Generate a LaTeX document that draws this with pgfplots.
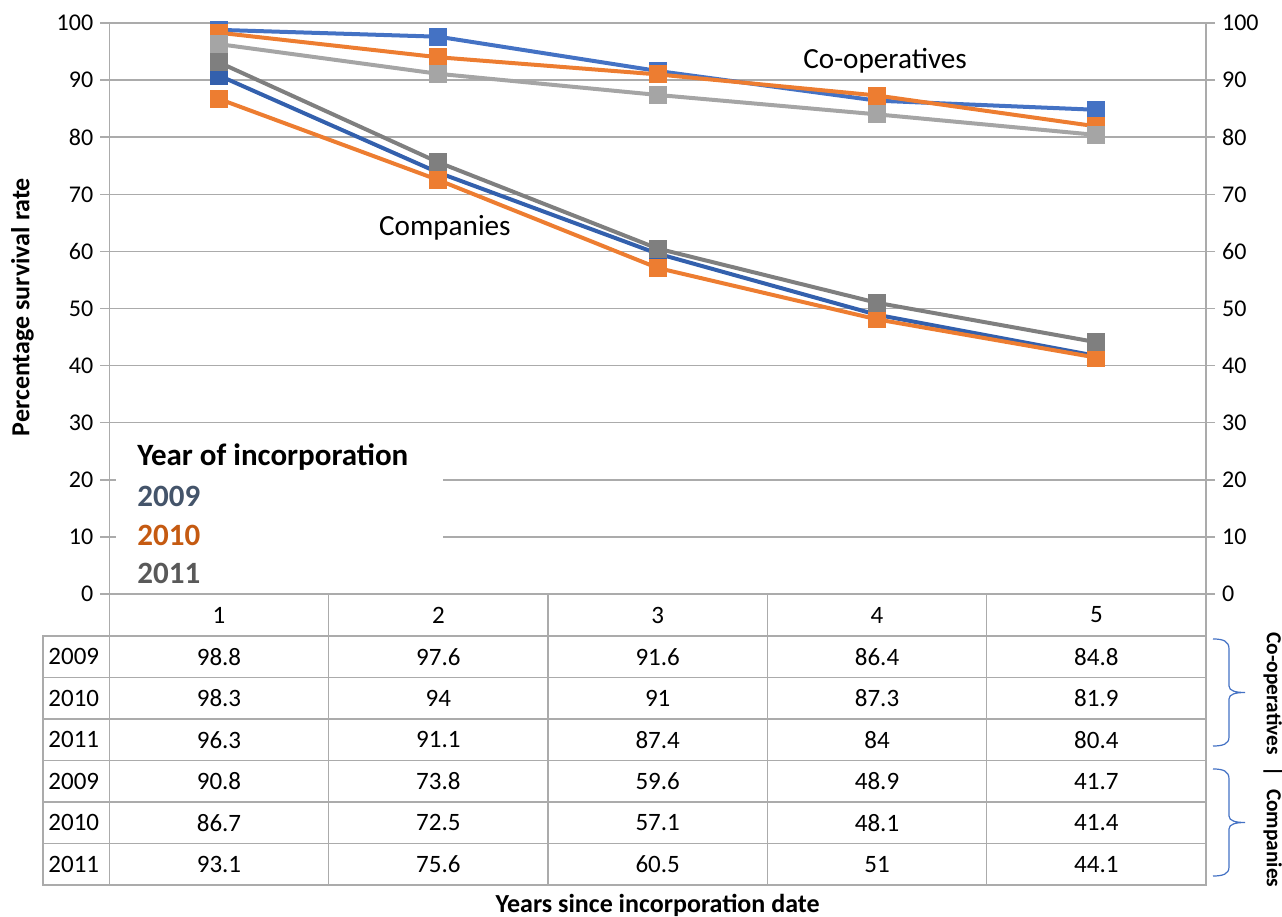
\documentclass[border=0pt]{standalone}
\usepackage{pgfplots}
\pgfplotsset{compat=1.18}
\usepackage{pgfplotstable}
\usepackage{fontspec}
\setmainfont{Carlito}
\definecolor{cblue}{HTML}{4472C4}
\definecolor{dblue}{HTML}{3360AD}
\definecolor{corange}{HTML}{ED7D31}
\definecolor{cgray}{HTML}{A5A5A5}
\definecolor{dgray}{HTML}{7F7F7F}
\definecolor{gridc}{HTML}{ABABAB}
\definecolor{leg09}{HTML}{44546A}
\definecolor{leg10}{HTML}{C55A11}
\definecolor{leg11}{HTML}{595959}

\pgfplotstableread{
x  y2009 y2010 y2011
1  98.8  98.3  96.3
2  97.6  94    91.1
3  91.6  91    87.4
4  86.4  87.3  84
5  84.8  81.9  80.4
}\coop
\pgfplotstableread{
x  y2009 y2010 y2011
1  90.8  86.7  93.1
2  73.8  72.5  75.6
3  59.6  57.1  60.5
4  48.9  48.1  51
5  41.7  41.4  44.1
}\comp

\begin{document}
\begin{tikzpicture}
\useasboundingbox (0,0) rectangle (641pt,458.5pt);
\pgfplotsset{
  common/.style={
    at={(54.65pt,161.5pt)}, anchor=south west,
    scale only axis, width=548.35pt, height=285.5pt,
    xmin=0.5, xmax=5.5, ymin=0, ymax=100,
    ytick={0,10,...,100}, xtick=\empty,
    axis line style={gridc, line width=0.75pt},
    tick style={gridc, line width=0.75pt},
    tick align=outside, major tick length=4.5pt,
    /pgf/number format/assume math mode=true,
    yticklabel style={font=\fontsize{12}{14}\selectfont, text=black},
  }
}
\begin{axis}[common,
  axis y line*=left, axis x line*=bottom,
  ymajorgrids, grid style={gridc, line width=0.75pt},
  clip=false,
  ylabel={Percentage survival rate},
  ylabel style={at={(axis description cs:-0.0793,0.5026)}, anchor=center, rotate=0,
    font=\bfseries\fontsize{13}{15}\selectfont},
  xlabel={Years since incorporation date},
  xlabel style={at={(axis description cs:0.5,-0.5447)}, anchor=center,
    font=\bfseries\fontsize{13}{15}\selectfont},
  every axis plot/.append style={line width=2pt, mark=square*, mark size=3.5pt},
]
\addplot[dblue, mark options={fill=dblue}] table[x=x, y=y2009] {\comp};
\addplot[corange, mark options={fill=corange}] table[x=x, y=y2010] {\comp};
\addplot[dgray, mark options={fill=dgray}] table[x=x, y=y2011] {\comp};
\addplot[cblue, mark options={fill=cblue}] table[x=x, y=y2009] {\coop};
\addplot[corange, mark options={fill=corange}] table[x=x, y=y2010] {\coop};
\addplot[cgray, mark options={fill=cgray}] table[x=x, y=y2011] {\coop};
\node[font=\fontsize{14.6}{16}\selectfont] at (axis cs:4.037,93.3) {Co-operatives};
\node[font=\fontsize{14.6}{16}\selectfont] at (axis cs:2.03,64.1) {Companies};
\end{axis}
\begin{axis}[common,
  axis y line*=right, axis x line=none,
]
\end{axis}
\begin{scope}[shift={(0pt,458.5pt)}, x=0.5pt, y=-0.5pt]
  % legend box
  \fill[white] (116,432) rectangle (443,589);
  \node[anchor=west, inner sep=0pt, font=\bfseries\fontsize{15.5}{17}\selectfont] at (137,457) {Year of incorporation};
  \node[anchor=west, inner sep=0pt, text=leg09, font=\bfseries\fontsize{15.5}{17}\selectfont] at (137,496) {2009};
  \node[anchor=west, inner sep=0pt, text=leg10, font=\bfseries\fontsize{15.5}{17}\selectfont] at (137,535) {2010};
  \node[anchor=west, inner sep=0pt, text=leg11, font=\bfseries\fontsize{15.5}{17}\selectfont] at (137,573) {2011};
  % table grid
  \begin{scope}[gridc, line width=0.75pt]
    \draw (43,636) rectangle (1206,885);
    \foreach \yy in {677.5,719,760.5,802,843.5} \draw (43,\yy) -- (1206,\yy);
    \foreach \xx in {109.3,328.65,548,767.35,986.7,1206} \draw (\xx,594) -- (\xx,885);
  \end{scope}
  % header
  \foreach \k in {1,...,5} \node[font=\fontsize{12.5}{14}\selectfont] at ({219+219.35*(\k-1)},615) {\k};
  % rows
  \foreach \rr/\yr/\va/\vb/\vc/\vd/\ve in {
      0/2009/98.8/97.6/91.6/86.4/84.8,
      1/2010/98.3/94/91/87.3/81.9,
      2/2011/96.3/91.1/87.4/84/80.4,
      3/2009/90.8/73.8/59.6/48.9/41.7,
      4/2010/86.7/72.5/57.1/48.1/41.4,
      5/2011/93.1/75.6/60.5/51/44.1}{
    \pgfmathsetmacro{\ry}{656.75+41.5*\rr}
    \node[anchor=west, inner sep=0pt, font=\fontsize{12.5}{14}\selectfont] at (48,\ry) {\yr};
    \node[font=\fontsize{12.5}{14}\selectfont] at (219,\ry) {\va};
    \node[font=\fontsize{12.5}{14}\selectfont] at (438.35,\ry) {\vb};
    \node[font=\fontsize{12.5}{14}\selectfont] at (657.7,\ry) {\vc};
    \node[font=\fontsize{12.5}{14}\selectfont] at (877.05,\ry) {\vd};
    \node[font=\fontsize{12.5}{14}\selectfont] at (1096.4,\ry) {\ve};
  }
  % braces
  \begin{scope}[cblue, line width=0.6pt]
    \foreach \o in {0,130}{
      \draw (1213,639+\o) .. controls (1223,639+\o) and (1229,641+\o) .. (1229,649+\o)
        -- (1229,686+\o) .. controls (1229,691+\o) and (1236,692.5+\o) .. (1245,692.5+\o)
        .. controls (1236,692.5+\o) and (1229,694+\o) .. (1229,699+\o)
        -- (1229,737+\o) .. controls (1229,744+\o) and (1223,746+\o) .. (1213,746+\o);
    }
  \end{scope}
  \node[rotate=-90, inner sep=0pt, font=\bfseries\fontsize{10.7}{12}\selectfont] at (1273,760) {Co-operatives\hspace{6pt}|\hspace{6pt}Companies};
\end{scope}
\end{tikzpicture}
\end{document}
